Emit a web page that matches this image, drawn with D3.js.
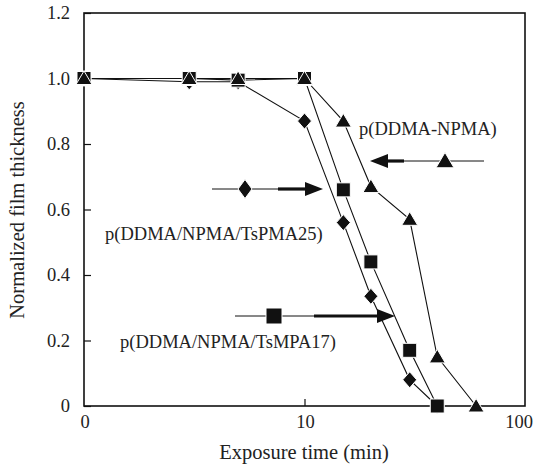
<!DOCTYPE html>
<html><head><meta charset="utf-8">
<script src="https://cdn.jsdelivr.net/npm/d3@7"></script>
<style>body{margin:0;background:#fff}svg text{font-family:"Liberation Serif","Times New Roman",serif;fill:#222}</style>
</head><body><svg id="c" width="534" height="465"></svg>
<script>
const timesTri = [1, 3, 5, 10, 15, 20, 30, 40, 60];
const valuesTri = [1.0, 1.0, 1.0, 1.0, 0.87, 0.67, 0.57, 0.15, 0.0];
const timesSq = [1, 3, 5, 10, 15, 20, 30, 40];
const valuesSq = [1.0, 1.0, 0.995, 1.0, 0.66, 0.44, 0.17, 0.0];
const timesDia = [1, 3, 5, 10, 15, 20, 30, 40];
const valuesDia = [1.0, 0.99, 0.99, 0.87, 0.56, 0.335, 0.08, 0.0];
const xTicks = [1, 10, 100];
const xTickLabels = ["0", "10", "100"];
const yTicks = [0, 0.2, 0.4, 0.6, 0.8, 1.0, 1.2];
const yTickLabels = ["0", "0.2", "0.4", "0.6", "0.8", "1.0", "1.2"];
const labelTri = "p(DDMA-NPMA)";
const labelDia = "p(DDMA/NPMA/TsPMA25)";
const labelSq = "p(DDMA/NPMA/TsMPA17)";

const L = 84, R = 525, T = 13, B = 406;
const svg = d3.select("#c");
const x = d3.scaleLog().domain([1, 100]).range([L, R]);
const y = d3.scaleLinear().domain([0, 1.2]).range([B, T]);

// frame
svg.append("rect").attr("x", L).attr("y", T).attr("width", R - L).attr("height", B - T)
  .attr("fill", "none").attr("stroke", "#111").attr("stroke-width", 1.6);

// y axis ticks
const yAx = svg.append("g").attr("transform", `translate(${L},0)`)
  .call(d3.axisRight(y).tickValues(yTicks).tickSize(7).tickFormat(""));
yAx.select(".domain").remove();
yAx.selectAll("line").attr("stroke", "#111").attr("stroke-width", 1.2);
svg.selectAll(".ylab").data(yTicks).join("text").attr("class", "ylab")
  .attr("x", 70).attr("y", d => y(d)).attr("dy", "0.35em").attr("text-anchor", "end")
  .attr("font-size", 18.5).text((d, i) => yTickLabels[i]);

// x axis ticks
const xAx = svg.append("g").attr("transform", `translate(0,${B})`)
  .call(d3.axisTop(x).tickValues([10]).tickSize(7).tickFormat(""));
xAx.select(".domain").remove();
xAx.selectAll("line").attr("stroke", "#111").attr("stroke-width", 1.2);
svg.selectAll(".xlab").data(xTicks).join("text").attr("class", "xlab")
  .attr("x", (d, i) => x(d) + (i === 2 ? -6 : 1)).attr("y", 428).attr("text-anchor", "middle")
  .attr("font-size", 18.5).text((d, i) => xTickLabels[i]);

svg.append("text").attr("x", 304).attr("y", 459).attr("text-anchor", "middle")
  .attr("font-size", 20.5).text("Exposure time (min)");
svg.append("text").attr("transform", "translate(24,210) rotate(-90)").attr("text-anchor", "middle")
  .attr("font-size", 20.5).text("Normalized film thickness");

// markers
const triPath = s => `M0,${-s*0.95}L${s},${s*0.75}L${-s},${s*0.75}Z`;
const sqPath = s => `M${-s},${-s}H${s}V${s}H${-s}Z`;
const diaPath = (w, h) => `M0,${-h}L${w},0L0,${h}L${-w},0Z`;
const line = d3.line().x(d => x(d[0])).y(d => y(d[1]));

function series(ts, vs) {
  const pts = ts.map((t, i) => [t, vs[i]]);
  svg.append("path").attr("d", line(pts)).attr("fill", "none").attr("stroke", "#111").attr("stroke-width", 1.1);
  return pts;
}
const pD = series(timesDia, valuesDia);
const pS = series(timesSq, valuesSq);
const pT = series(timesTri, valuesTri);
function marks(pts, d) {
  svg.append("g").selectAll("path").data(pts).join("path")
    .attr("transform", p => `translate(${x(p[0])},${y(p[1])})`)
    .attr("d", d).attr("fill", "#111").attr("stroke", "#fff").attr("stroke-width", 1);
}
marks(pD, diaPath(7, 8));
marks(pS, sqPath(7));
marks(pT, triPath(8));

// annotations
function legendItem(x1, x2, mx, yy, shape, thickStart, tip, dir) {
  svg.append("line").attr("x1", x1).attr("x2", x2).attr("y1", yy).attr("y2", yy).attr("stroke", "#111").attr("stroke-width", 1);
  svg.append("line").attr("x1", thickStart).attr("x2", tip - dir * 14).attr("y1", yy).attr("y2", yy).attr("stroke", "#111").attr("stroke-width", 3.2);
  svg.append("path").attr("d", `M${tip},${yy}L${tip - dir * 18},${yy - 7}L${tip - dir * 18},${yy + 7}Z`).attr("fill", "#111");
  svg.append("path").attr("transform", `translate(${mx},${yy})`).attr("d", shape).attr("fill", "#111").attr("stroke", "#fff").attr("stroke-width", 1);
}
legendItem(404, 484, 445, 161, triPath(9), 404, 370, -1);
legendItem(212, 278, 245, 189, diaPath(7, 9.5), 278, 323, 1);
legendItem(235, 314, 274, 316, sqPath(8), 314, 395, 1);

svg.append("text").attr("x", 359).attr("y", 135).attr("font-size", 18.5).text(labelTri);
svg.append("text").attr("x", 105).attr("y", 240).attr("font-size", 18.5).text(labelDia);
svg.append("text").attr("x", 120).attr("y", 348).attr("font-size", 18.5).text(labelSq);
</script></body></html>
